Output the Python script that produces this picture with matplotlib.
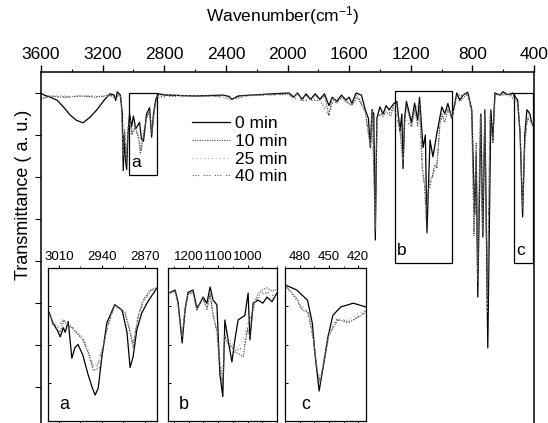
import matplotlib
matplotlib.use('Agg')
import matplotlib.pyplot as plt
from matplotlib.patches import Rectangle
from matplotlib.ticker import MultipleLocator, NullFormatter, FixedLocator

plt.rcParams['font.family'] = ['Liberation Sans', 'DejaVu Sans']
plt.rcParams['mathtext.default'] = 'regular'

# ---------------- main spectra (wavenumber, transmittance a.u.) ----------------
wn_0 = [3600, 3580, 3540, 3496, 3450, 3412, 3370, 3327, 3280, 3237, 3190, 3152, 3125, 3115,
        3105, 3085, 3072, 3066, 3060, 3052, 3044, 3036, 3025, 3012, 3000, 2985, 2960, 2948,
        2935, 2915, 2895, 2882, 2870, 2855, 2840, 2800, 2600, 2420, 2380, 2360, 2320, 2100,
        1990, 1960, 1935, 1905, 1880, 1850, 1820, 1790, 1760, 1731, 1710, 1680, 1650, 1620,
        1600, 1582, 1555, 1520, 1495, 1475, 1462, 1452, 1440, 1430, 1420, 1400, 1380, 1360,
        1340, 1310, 1290, 1270, 1258, 1250, 1240, 1228, 1195, 1175, 1155, 1143, 1120, 1105,
        1095, 1075, 1056, 1030, 998, 979, 959, 933, 901, 882, 860, 830, 804, 785, 775, 765,
        745, 732, 719, 700, 680, 667, 654, 620, 602, 570, 537, 520, 506, 490, 474, 460, 446,
        435, 427, 415, 400]
t_0 = [90, 89.5, 89, 88.3, 86.5, 84.8, 83.5, 82.9, 84.3, 86, 88.3, 89.8, 89.5, 88.2,
       90.3, 89.5, 85, 71.5, 80, 74, 71.8, 80, 85, 82, 84.5, 81.5, 83, 79,
       78.5, 85, 86.5, 79.5, 85, 88.5, 89.8, 89.5, 89.3, 89.5, 89.2, 88.5, 89.3, 89.8,
       90, 89, 90, 88.5, 89.8, 88.5, 89.8, 88.5, 89.8, 87, 89, 88, 89.5, 88.3,
       89, 87.5, 90, 89.5, 86, 84, 77, 86, 85, 55, 84, 86.7, 85, 87,
       86, 87.5, 88, 81, 85, 72, 84, 88, 83, 87.6, 83.6, 89, 77, 80,
       56.7, 78.8, 74.8, 80.5, 86.7, 85, 87.5, 84, 90, 88.3, 89.5, 90.2, 86, 61, 75, 41.4,
       85, 55.7, 86, 29.3, 86, 78.8, 90, 89.5, 90.3, 89.6, 90, 89, 88.3, 80, 60.5, 80, 86,
       85.5, 85, 83, 82]

wn_10 = [3600, 3550, 3450, 3350, 3250, 3150, 3110, 3100, 3080, 3068, 3058, 3046, 3036, 3022,
         3010, 2990, 2965, 2955, 2935, 2915, 2895, 2882, 2868, 2850, 2830, 2600, 2400, 2360,
         2300, 2000, 1960, 1935, 1905, 1880, 1850, 1820, 1790, 1760, 1731, 1712, 1680, 1650,
         1620, 1582, 1555, 1495, 1462, 1450, 1430, 1420, 1400, 1380, 1360, 1330, 1310, 1290,
         1270, 1250, 1240, 1228, 1195, 1175, 1155, 1143, 1125, 1110, 1100, 1090, 1075, 1060,
         1045, 1030, 1010, 998, 979, 959, 933, 901, 882, 830, 804, 790, 775, 765, 748, 735,
         719, 703, 685, 667, 654, 600, 537, 506, 490, 474, 460, 446, 427, 400]
t_10 = [88.5, 89.3, 89, 89.3, 89, 89.5, 88.5, 90, 89, 74, 81, 73, 81, 83,
        80, 82, 79, 75.5, 80, 84, 86, 80, 85, 89, 89.8, 89.2, 89.4, 88.5,
        89.4, 89.8, 89, 89.8, 88.3, 89.5, 88.3, 89.5, 88.3, 89.3, 84.8, 88.5, 87.5, 89,
        88, 87, 89.5, 85.5, 77, 86, 57, 84, 85, 84.5, 85.5, 84.5, 87, 87.5,
        81, 73, 83, 87, 82, 86, 82, 87, 72, 68, 60, 66, 69, 70,
        73, 72, 83, 85, 83, 86, 84, 89.5, 88, 89.8, 86, 56, 78, 48, 84, 58,
        84, 42, 84, 78, 89.5, 89.8, 89.5, 87.5, 81, 62, 78, 84, 83.5, 81.5]

wn_25 = [3600, 3500, 3400, 3300, 3200, 3120, 3100, 3080, 3067, 3058, 3045, 3035, 3020, 3008,
         2990, 2962, 2952, 2935, 2912, 2895, 2881, 2866, 2848, 2700, 2500, 2360, 2200, 1990,
         1935, 1905, 1850, 1790, 1731, 1700, 1650, 1582, 1540, 1495, 1462, 1450, 1430, 1420,
         1390, 1350, 1310, 1270, 1250, 1238, 1195, 1175, 1143, 1122, 1108, 1098, 1085, 1068,
         1050, 1030, 1008, 990, 960, 930, 900, 830, 805, 788, 776, 765, 748, 734, 720, 702,
         686, 668, 652, 560, 506, 490, 474, 458, 440, 420, 400]
t_25 = [89, 89.5, 89.2, 89.5, 89.2, 89, 89.8, 88.8, 75, 81, 74, 82, 83.5, 80.5,
        82.5, 79.5, 77, 81, 84.5, 86, 81, 85.5, 89.2, 89.4, 89.3, 88.7, 89.5, 89.7,
        89.6, 88.5, 88.5, 88.5, 85.5, 88.5, 89, 87.3, 89.4, 85.8, 77.5, 86, 58, 84.5,
        85.3, 85.5, 87.2, 81.5, 74, 84, 82.5, 86.5, 87.5, 73, 69, 62, 67, 70,
        72, 73.5, 83.5, 84, 86.3, 84.5, 89.5, 89.8, 86, 58, 77, 45, 84.5, 57,
        85, 38, 85, 78.5, 89.6, 89.8, 87.8, 81, 63, 79, 84.5, 83.8, 81.8]

wn_40 = [3600, 3520, 3420, 3320, 3220, 3130, 3100, 3078, 3066, 3057, 3045, 3034, 3020, 3006,
         2988, 2962, 2950, 2932, 2912, 2893, 2880, 2865, 2846, 2650, 2450, 2360, 2250, 1990,
         1960, 1905, 1850, 1790, 1731, 1705, 1650, 1582, 1540, 1495, 1462, 1450, 1430, 1420,
         1390, 1340, 1310, 1270, 1250, 1238, 1195, 1175, 1143, 1124, 1110, 1100, 1088, 1070,
         1052, 1032, 1010, 992, 960, 930, 900, 830, 805, 789, 775, 765, 748, 734, 719, 702,
         685, 668, 652, 560, 506, 490, 474, 458, 440, 420, 400]
t_40 = [88.7, 89.2, 89, 89.3, 89.1, 89.4, 89.5, 88.6, 75.5, 81.5, 74.5, 82, 83, 80,
        82, 78.5, 76, 80.5, 84.2, 85.8, 80.5, 85.2, 89, 89.3, 89.2, 88.4, 89.4, 89.6,
        88.8, 88.2, 88.2, 88.2, 84.5, 88.2, 88.7, 87, 89.2, 85.4, 77.2, 85.8, 58.5, 84.2,
        85, 85.2, 86.8, 81.2, 73.5, 83.5, 82, 86.2, 87.2, 71.5, 67.5, 61, 65.5, 68.5,
        71, 72.5, 83, 84.5, 86, 84.2, 89.3, 89.6, 85.5, 57, 76.5, 46.5, 84, 56.5,
        84.5, 40, 84.5, 78.2, 89.4, 89.6, 87.5, 80.5, 62.5, 78.5, 84.2, 83.5, 81.5]

series_labels = ['0 min', '10 min', '25 min', '40 min']

# ---------------- inset a: 3030-2850 ----------------
wn_a0 = [3026, 3020, 3013, 3008, 3003, 3000, 2995, 2989, 2984, 2979, 2971, 2963, 2956, 2951,
         2946, 2940, 2932, 2919, 2907, 2899, 2894, 2889, 2883, 2875, 2865, 2850]
t_a0 = [71, 64, 59.5, 55, 61, 58, 65, 41, 48, 50, 43, 31, 22, 17,
        21.5, 42, 64, 76, 72.5, 58, 35, 42, 59.5, 70.5, 78, 87]
wn_a1 = [3026, 3020, 3013, 3008, 3002, 2996, 2989, 2980, 2971, 2962, 2954, 2948, 2943, 2938,
         2932, 2919, 2902, 2895, 2889, 2881, 2873, 2861, 2850]
t_a1 = [71, 63, 60, 58, 66, 62, 61, 57, 53, 44, 33, 34, 35, 47,
        61, 76, 71, 60, 48, 68, 79, 85.6, 87]
wn_a2 = [3026, 3018, 3010, 3004, 2997, 2989, 2980, 2971, 2962, 2954, 2947, 2938, 2930, 2919,
         2903, 2895, 2889, 2881, 2872, 2860, 2850]
t_a2 = [70, 64, 62, 67, 64, 62, 58, 55, 46, 36, 37, 50, 63, 75.5,
        70.5, 61, 51, 67, 78, 85, 87]
wn_a3 = [3026, 3018, 3010, 3004, 2997, 2989, 2980, 2971, 2962, 2954, 2947, 2938, 2930, 2919,
         2903, 2895, 2889, 2881, 2872, 2860, 2850]
t_a3 = [70.5, 63, 61, 66, 63, 61.5, 57, 54, 45, 35, 36, 49, 62, 75.8,
        70.8, 60, 50, 68, 78.5, 85.3, 87]

# ---------------- inset b: 1270-900 ----------------
wn_b0 = [1263, 1246, 1236, 1222, 1212, 1202, 1185, 1172, 1161, 1151, 1138, 1127, 1117, 1104,
         1094, 1084, 1077, 1066, 1053, 1043, 1032, 1009, 998, 992, 981, 964, 948, 934, 917, 900]
t_b0 = [84, 85.6, 78, 51, 72.5, 84, 85.6, 74, 77, 81, 77, 87.6, 79, 76,
        31, 16, 66, 53, 38.6, 53, 66, 69, 83.6, 53, 77, 79, 77, 81, 78, 83.6]
wn_b1 = [1263, 1246, 1236, 1222, 1212, 1202, 1185, 1172, 1160, 1150, 1138, 1127, 1117, 1104,
         1094, 1084, 1077, 1066, 1053, 1043, 1030, 1015, 1000, 992, 981, 964, 948, 934, 917, 900]
t_b1 = [84, 85, 77, 55, 74, 83, 84, 72, 78, 79, 74, 83, 70, 58,
        35, 22, 55, 50, 48, 45, 44, 42, 60, 55, 75, 83, 86, 87, 85, 86]
wn_b2 = [1263, 1246, 1236, 1222, 1212, 1202, 1185, 1172, 1160, 1150, 1138, 1127, 1117, 1104,
         1094, 1084, 1077, 1066, 1053, 1040, 1025, 1010, 998, 985, 970, 950, 930, 915, 900]
t_b2 = [83, 84.5, 76, 56, 73, 82.5, 83.5, 73, 77, 80, 72, 82, 68, 60,
        40, 30, 57, 54, 51, 47, 50, 55, 66, 72, 80, 84, 83, 80, 82]
wn_b3 = [1263, 1246, 1236, 1222, 1212, 1202, 1185, 1172, 1160, 1150, 1138, 1127, 1117, 1104,
         1094, 1084, 1077, 1066, 1053, 1040, 1025, 1010, 998, 985, 970, 950, 930, 915, 900]
t_b3 = [83.5, 85, 76.5, 54, 73.5, 83, 84, 72.5, 77.5, 79.5, 73, 82.5, 69, 59,
        38, 26, 56, 52, 49, 46, 47, 50, 63, 70, 79, 83, 84, 82, 83]

# ---------------- inset c: 495-412 ----------------
wn_c0 = [495, 483, 472, 467, 464, 460, 456, 451, 446, 438, 425, 412]
t_c0 = [89, 85.6, 79, 64, 42, 19.6, 35, 55, 69, 74.5, 77, 74.5]
wn_c1 = [495, 483, 477, 471, 466, 462, 459, 455, 450, 441, 428, 417, 412]
t_c1 = [89, 80, 72.5, 71, 55, 32, 25, 38, 56, 66, 65, 69, 71]
wn_c2 = [495, 485, 478, 472, 467, 462, 459, 455, 450, 442, 430, 420, 412]
t_c2 = [88, 82, 76, 72, 58, 35, 28, 40, 58, 67, 66, 70, 73]
wn_c3 = [495, 485, 479, 472, 467, 462, 459, 455, 450, 442, 430, 420, 412]
t_c3 = [88.5, 81, 74, 71.5, 56, 33, 26, 39, 57, 66.5, 64, 68, 72]

inset_a_ticks = [3010, 2940, 2870]
inset_b_ticks = [1200, 1100, 1000]
inset_c_ticks = [480, 450, 420]

# line styles for the four series
styles = [dict(color='black', lw=0.9, ls='-'),
          dict(color='#444444', lw=0.8, ls=(0, (1, 1.2))),
          dict(color='#9a9a9a', lw=0.7, ls=(0, (1, 3))),
          dict(color='#555555', lw=0.8, ls=(0, (1, 1.5, 1, 1.5, 1, 4)))]

W, H = 548, 423
fig = plt.figure(figsize=(W / 100, H / 100), dpi=100)

# main axes (bottom part is cut off by the figure, as in the scan)
ax = fig.add_axes([41 / W, 1 - 471 / H, (534 - 41) / W, (471 - 72) / H])
for wn, t, st in zip([wn_0, wn_10, wn_25, wn_40], [t_0, t_10, t_25, t_40], styles):
    ax.plot(wn, t, **st)
ax.set_xlim(3600, 400)
ax.set_ylim(0, 95)
ax.xaxis.tick_top()
ax.xaxis.set_major_locator(MultipleLocator(400))
ax.xaxis.set_minor_locator(MultipleLocator(200))
ax.yaxis.set_major_locator(MultipleLocator(10))
ax.yaxis.set_major_formatter(NullFormatter())
ax.tick_params(axis='x', which='major', direction='out', length=5, width=1,
               labelsize=12.5, pad=2)
ax.tick_params(axis='x', which='minor', direction='out', length=2.5, width=0.8)
ax.tick_params(axis='y', which='major', direction='out', length=4, width=0.8)
for s in ax.spines.values():
    s.set_linewidth(1.1)

# boxes marking the zoomed regions
boxes = [(3029, 2847, 70.5, 90, 'a'), (1302, 932, 49.5, 90.5, 'b'), (530, 407, 49.5, 90, 'c')]
for x0, x1, y0, y1, lab in boxes:
    ax.add_patch(Rectangle((x0, y0), x1 - x0, y1 - y0, fill=False, lw=0.9, ec='black'))
    ax.text(x0 - 15, y0 + 1.2, lab, fontsize=12.5, ha='left', va='bottom')

ax.legend(series_labels, loc='upper left', bbox_to_anchor=(192 / W, 1 - 116 / H),
          bbox_transform=fig.transFigure, frameon=False, fontsize=12.5,
          handlelength=2.2, handletextpad=0.3, labelspacing=0.15, borderpad=0,
          borderaxespad=0)

fig.text(283 / W, 1 - 16 / H, 'Wavenumber(cm$^{-1}$)', ha='center', va='center', fontsize=12.5)
fig.text(24 / W, 1 - 195 / H, 'Transmittance ( a. u.)', ha='center', va='center',
         rotation=90, fontsize=13)

# insets
insets = [
    ([48, 157], (3028, 2850), inset_a_ticks, 35, [wn_a0, wn_a1, wn_a2, wn_a3], [t_a0, t_a1, t_a2, t_a3], 'a', 0.1),
    ([168, 277], (1270, 900), inset_b_ticks, 50, [wn_b0, wn_b1, wn_b2, wn_b3], [t_b0, t_b1, t_b2, t_b3], 'b', 0.1),
    ([285, 366], (495, 412), inset_c_ticks, 15, [wn_c0, wn_c1, wn_c2, wn_c3], [t_c0, t_c1, t_c2, t_c3], 'c', 0.2),
]
for (xl, xr), lims, major, minor, wns, ts, lab, lx in insets:
    ia = fig.add_axes([xl / W, 1 - 421 / H, (xr - xl) / W, (421 - 268) / H])
    for wn, t, st in zip(wns, ts, styles):
        ia.plot(wn, t, **st)
    ia.set_xlim(*lims)
    ia.set_ylim(0, 100)
    ia.xaxis.set_ticks_position('both')
    ia.tick_params(axis='x', labeltop=True, labelbottom=False, labelsize=9.5, pad=1,
                   direction='out', length=2.5)
    ia.tick_params(axis='x', which='minor', length=1.5, direction='out')
    ia.xaxis.set_major_locator(FixedLocator(major))
    ia.xaxis.set_minor_locator(MultipleLocator(minor))
    ia.yaxis.set_major_locator(MultipleLocator(25))
    ia.yaxis.set_major_formatter(NullFormatter())
    ia.tick_params(axis='y', direction='in', length=2.5, width=0.7)
    for s in ia.spines.values():
        s.set_linewidth(0.9)
    ia.text(lx, 0.05, lab, transform=ia.transAxes, fontsize=13, ha='left', va='bottom')

fig.savefig('out.png', dpi=100)
